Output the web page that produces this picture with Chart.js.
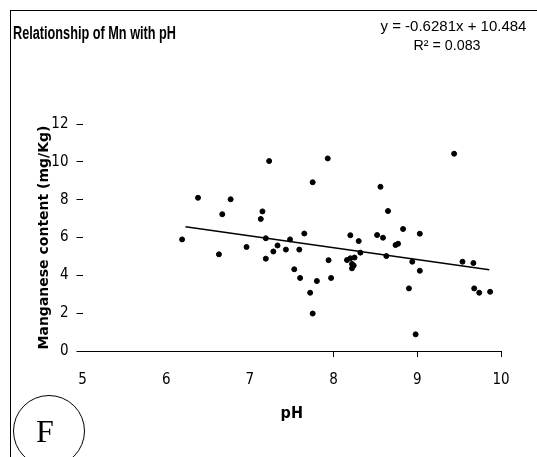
<!DOCTYPE html>
<html>
<head>
<meta charset="utf-8">
<script src="https://cdn.jsdelivr.net/npm/chart.js@4"></script>
<style>
  body { margin: 0; background: #fff; overflow: hidden; }
  #wrap { position: relative; width: 537px; height: 457px; }
  #frame { position: absolute; left: 10px; top: 10px; width: 600px; height: 600px;
           border-left: 1px solid #000; border-top: 1px solid #000; pointer-events: none; }
  #tag { position: absolute; left: 13px; top: 395px; width: 70px; height: 70px;
         border: 1px solid #000; border-radius: 50%; text-align: center; line-height: 70px;
         text-indent: -8px;
         font-family: "Liberation Serif", "DejaVu Serif", serif; font-size: 32px; color: #000; }
</style>
</head>
<body>
<div id="wrap">
  <canvas id="canvas" width="537" height="457"></canvas>
  <div id="frame"></div>
  <div id="tag">F</div>
</div>
<script>
// values
const chartTitle = 'Relationship of Mn with pH';
const equationText = 'y = -0.6281x + 10.484';
const r2Text = 'R\u00B2 = 0.083';
const xTitle = 'pH';
const yTitle = 'Manganese content (mg/Kg)';

const phValues = [7.23, 6.38, 6.77, 6.67, 7.15, 7.13, 6.19, 6.63, 6.96, 7.19,
  7.33, 7.28, 7.43, 7.48, 7.59, 7.65, 7.19, 7.53, 7.60, 7.72,
  7.80, 7.97, 7.75, 7.94, 7.93, 7.75, 8.20, 8.30, 8.32, 8.16,
  8.20, 8.25, 8.22, 8.24, 8.22, 8.56, 8.65, 8.52, 8.59, 8.63,
  8.74, 8.77, 8.83, 9.03, 8.94, 9.03, 8.90, 8.98, 9.44, 9.54,
  9.67, 9.68, 9.74, 9.87];
const mnValues = [10.04, 8.10, 8.02, 7.23, 7.38, 6.98, 5.90, 5.11, 5.50, 5.96,
  5.58, 5.26, 5.36, 5.90, 5.36, 6.21, 4.88, 4.32, 3.86, 3.08,
  3.70, 3.86, 1.98, 4.80, 10.18, 8.92, 6.12, 5.81, 5.20, 4.81,
  4.90, 4.94, 4.60, 4.52, 4.37, 8.68, 7.40, 6.13, 5.99, 5.02,
  5.60, 5.67, 6.45, 6.20, 4.72, 4.24, 3.31, 0.88, 10.43, 4.72,
  4.65, 3.31, 3.08, 3.13];

// trend line end points
const trendPh = [6.23, 9.86];
const trendMn = [6.57, 4.29];

const xMin = 5, xMax = 10, xStep = 1;
const yMin = 0, yMax = 12, yStep = 2;
const xTickedFrom = 8; // only these ticks show a mark

const narrow = '"DejaVu Sans Condensed", "Liberation Sans", Arial, sans-serif';
const sans = '"Liberation Sans", Arial, sans-serif';

// draws a text squeezed to a given width (the original uses a narrow face)
function squeezed(ctx, text, x, y, width, align) {
  const w = ctx.measureText(text).width;
  const k = Math.min(1, width / w);
  ctx.save();
  let left = x;
  if (align === 'center') left = x - width / 2;
  ctx.translate(left, y);
  ctx.scale(k, 1);
  ctx.textAlign = 'left';
  ctx.fillText(text, 0, 0);
  ctx.restore();
}

const textPlugin = {
  id: 'texts',
  afterDraw(chart) {
    const ctx = chart.ctx;
    ctx.save();
    ctx.fillStyle = '#000';
    ctx.textBaseline = 'middle';
    ctx.font = 'bold 18px ' + sans;
    squeezed(ctx, chartTitle, 13, 34, 163, 'left');
    ctx.font = '15px ' + sans;
    squeezed(ctx, equationText, 457, 27, 153, 'center');
    squeezed(ctx, r2Text, 447, 46, 67, 'center');
    ctx.restore();
  }
};

new Chart(document.getElementById('canvas'), {
  type: 'scatter',
  data: {
    datasets: [
      {
        data: phValues.map((v, i) => ({ x: v, y: mnValues[i] })),
        backgroundColor: '#000',
        borderColor: '#000',
        pointRadius: 2.5,
        pointHoverRadius: 2.5
      },
      {
        type: 'line',
        data: trendPh.map((v, i) => ({ x: v, y: trendMn[i] })),
        borderColor: '#000',
        borderWidth: 1.5,
        pointRadius: 0,
        fill: false
      }
    ]
  },
  options: {
    responsive: false,
    animation: false,
    devicePixelRatio: 1,
    layout: { padding: { top: 124, right: 36, bottom: 33.5, left: 36 } },
    plugins: {
      legend: { display: false },
      tooltip: { enabled: false }
    },
    scales: {
      x: {
        type: 'linear',
        min: xMin, max: xMax,
        afterFit(scale) { scale.height = 72.5; },
        border: { display: true, color: '#000', width: 1 },
        grid: {
          drawOnChartArea: false,
          tickLength: 6,
          tickColor: ctx => (ctx.tick && ctx.tick.value >= xTickedFrom) ? '#000' : 'rgba(0,0,0,0)'
        },
        ticks: {
          stepSize: xStep,
          color: '#000',
          padding: 14,
          maxRotation: 0,
          font: { family: narrow, size: 15 }
        },
        title: {
          display: true,
          text: xTitle,
          color: '#000',
          padding: 0,
          font: { family: narrow, size: 16, weight: 'bold' }
        }
      },
      y: {
        min: yMin, max: yMax,
        afterFit(scale) { scale.width = 46.5; },
        border: { display: false },
        grid: { drawOnChartArea: false, tickLength: 6, tickColor: '#000' },
        ticks: {
          stepSize: yStep,
          color: '#000',
          padding: 8,
          font: { family: narrow, size: 15 }
        },
        title: {
          display: true,
          text: yTitle,
          color: '#000',
          padding: 0,
          font: { family: '"DejaVu Sans", sans-serif', size: 14, weight: 'bold' }
        }
      }
    }
  },
  plugins: [textPlugin]
});
</script>
</body>
</html>
